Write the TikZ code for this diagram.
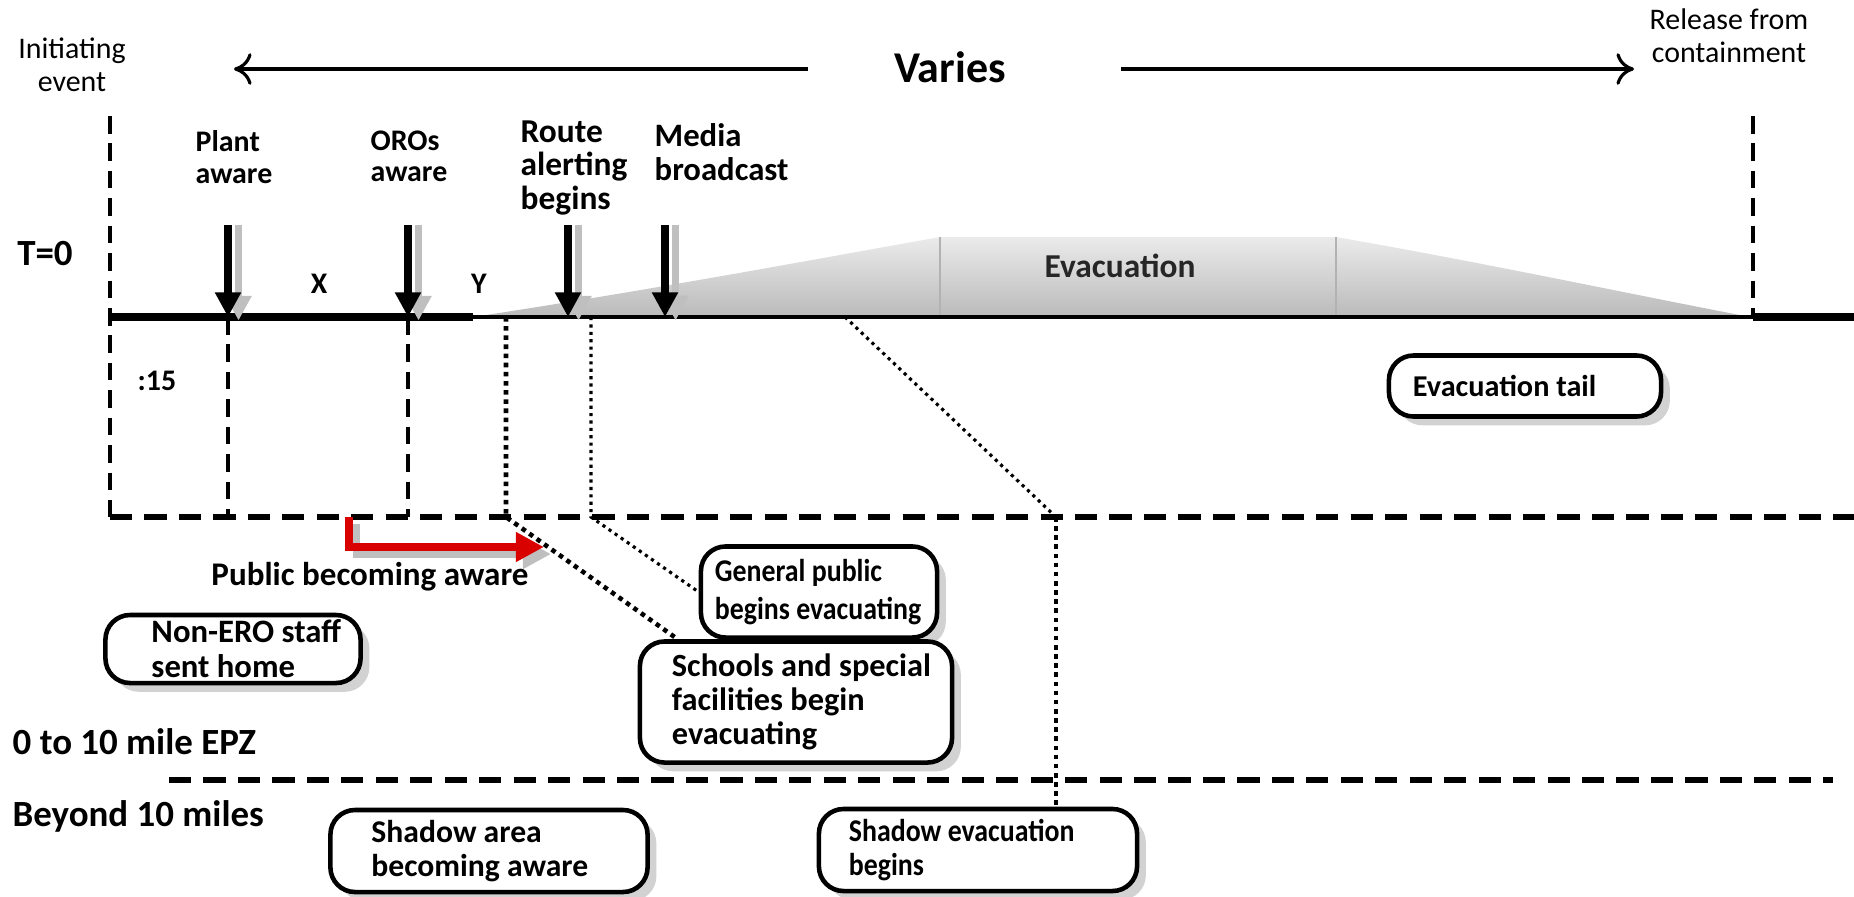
\documentclass[tikz,border=0pt]{standalone}
\usepackage{fontspec}
\setmainfont{Carlito}
\newfontfamily\narrowfont[FakeStretch=0.88, BoldFont={Carlito Bold}]{Carlito}
\usetikzlibrary{arrows.meta,shadows,positioning}

\tikzset{
  lbl/.style={font=\bfseries\fontsize{8.5}{9}\selectfont, inner sep=0pt, align=left},
  thin lbl/.style={font=\fontsize{8.5}{9.5}\selectfont, inner sep=0pt, align=center},
  big lbl/.style={font=\bfseries\fontsize{10.5}{12}\selectfont, inner sep=0pt},
  evbox/.style n args={4}{draw, line width=1.3pt, rounded corners=7pt, fill=white,
    font={#4\bfseries}, align=flush left, inner xsep=0.1cm, inner ysep=1pt,
    text width=#1, minimum height=#2,
    execute at begin node={\hyphenpenalty=10000\leftskip=#3\relax},
    drop shadow={shadow xshift=2.5pt, shadow yshift=-2.5pt, fill=black!35}},
  bigdash/.style={line width=1.3pt, dash pattern=on 5pt off 2.8pt},
  hdash/.style={line width=1.5pt, dash pattern=on 6.3pt off 3.5pt},
  dots/.style={line width=1.3pt, dash pattern=on 1.3pt off 1.3pt},
  finedots/.style={line width=0.9pt, dash pattern=on 0.9pt off 1.2pt},
  downarrow/.style={line width=2pt, -{Triangle[length=7pt,width=7pt]}},
  arrshadow/.style={line width=2pt, black!25, -{Triangle[length=7pt,width=7pt]}},
  spanarrow/.style={line width=0.9pt, -{To[length=5pt,width=9pt]}}
}

\begin{document}
\begin{tikzpicture}[x=0.01cm,y=-0.01cm]
  \useasboundingbox (0,0) rectangle (1854,896);

  % evacuation curve
  \shade[top color=black!8, bottom color=black!27]
    (473,317) .. controls (650,290) and (800,262) .. (940,237)
    -- (1336,237) .. controls (1480,262) and (1620,292) .. (1750,317) -- cycle;
  \draw[black!30, line width=0.6pt] (940,237) -- (940,317);
  \draw[black!30, line width=0.6pt] (1336,237) -- (1336,317);
  \node[font=\fontsize{9.5}{11}\selectfont\bfseries, text=black!85] (evac) at (1120,266) {Evacuation};

  % time line
  \coordinate (t0) at (110,317);
  \coordinate (tg) at (473,317);
  \coordinate (tr) at (1753,317);
  \coordinate (tend) at (1854,317);
  \draw[line width=2.4pt] (t0) -- (tg);
  \draw[line width=1.3pt] (tg) -- (tr);
  \draw[line width=2.4pt] (tr) -- (tend);

  % top texts
  \node[thin lbl] (init) at (72,65) {Initiating\\event};
  \node[thin lbl] (release) at (1729,36) {Release from\\containment};
  \node[font=\bfseries\fontsize{12.5}{14}\selectfont, inner sep=0pt] (varies) at (950,67) {Varies};
  \coordinate (vl) at (808,69);
  \coordinate (vr) at (1121,69);
  \coordinate (tipl) at (234,69);
  \coordinate (tipr) at (1634,69);
  \draw[spanarrow] (vl) -- (tipl);
  \draw[spanarrow] (vr) -- (tipr);

  \node[big lbl] (tzero) at (45,254) {T=0};

  % event labels
  \node[lbl, anchor=north west] (plant) at (195,130) {Plant\\aware};
  \node[lbl, anchor=north west] (oros) at (370,130) {OROs\\aware};
  \node[lbl, font=\bfseries\fontsize{9.5}{9.5}\selectfont, anchor=north west] (route) at (520,120) {Route\\alerting\\begins};
  \node[lbl, font=\bfseries\fontsize{9.3}{9.5}\selectfont, anchor=north west] (media) at (654,123) {Media\\broadcast};
  \node[lbl] (xgap) at (319,284) {X};
  \node[lbl] (ygap) at (479,284) {Y};

  % event arrows
  \foreach \ax/\nm in {228/a, 408/b, 568/c, 665/d} {
    \coordinate (\nm top) at (\ax,225);
    \coordinate (\nm bot) at (\ax,317);
    \draw[arrshadow] ([xshift=3pt]\nm top) -- ([xshift=3pt,yshift=-1pt]\nm bot);
    \draw[downarrow] (\nm top) -- (\nm bot);
  }

  % boundary dashes
  \draw[bigdash] (110,116) -- (110,517);
  \draw[bigdash] (1753,116) -- (1753,317);
  \draw[bigdash] (abot) -- (228,517);
  \draw[bigdash] (bbot) -- (408,517);
  \draw[hdash] (110,517) -- (1854,517);
  \draw[hdash] (169,780) -- (1833,780);

  \node[font=\fontsize{8.5}{9.5}\selectfont\bfseries, inner sep=0pt] (fifteen) at (157,381) {:15};

  % boxes
  \node[evbox={2.52cm}{0.61cm}{0.14cm}{\fontsize{8.6}{10}\selectfont}] (tail) at (1525,386) {Evacuation tail};
  \node[evbox={2.16cm}{0.91cm}{0.04cm}{\narrowfont\fontsize{9}{10.8}\selectfont}] (gp) at (819,592) {General public\\begins evacuating};
  \node[evbox={2.92cm}{1.21cm}{0.22cm}{\fontsize{9.2}{9.7}\selectfont}] (sch) at (796,702) {Schools and special\\facilities begin\\evacuating};
  \node[evbox={2.35cm}{0.68cm}{0.36cm}{\fontsize{9.3}{10}\selectfont}] (ero) at (233,649) {Non-ERO staff\\sent home};
  \node[evbox={2.97cm}{0.82cm}{0.31cm}{\fontsize{9}{9.6}\selectfont}] (sha) at (489,851) {Shadow area\\becoming aware};
  \node[evbox={2.98cm}{0.82cm}{0.2cm}{\narrowfont\fontsize{9}{9.6}\selectfont}] (she) at (978,850) {Shadow evacuation\\begins};

  % zone labels
  \node[big lbl, anchor=west] (epz) at (12,742) {0 to 10 mile EPZ};
  \node[big lbl, anchor=west] (beyond) at (12,816) {Beyond 10 miles};

  % public becoming aware
  \coordinate (pa) at (349,517);
  \coordinate (pb) at (544,547);
  \draw[line width=2pt, black!25, -{Triangle[length=8pt,width=8pt]}]
    ([xshift=2pt,yshift=-2pt]pa) |- ([xshift=2pt,yshift=-2pt]pb);
  \draw[line width=2pt, red!85!black, -{Triangle[length=8pt,width=8pt]}] (pa) |- (pb);
  \node[lbl, font=\bfseries\fontsize{9.4}{10}\selectfont] (pub) at (370,577) {Public becoming aware};

  % leaders to boxes
  \coordinate (sa) at (506,317);
  \coordinate (sb) at (506,517);
  \draw[dots] (sa) -- (sb) -- ([xshift=0.4cm]sch.north west);
  \coordinate (ga) at (591,317);
  \coordinate (gb) at (591,517);
  \draw[finedots] (ga) -- (gb) -- (gp.west);
  \coordinate (ea) at (845,317);
  \coordinate (eb) at (1056,517);
  \draw[finedots] (ea) -- (eb);
  \draw[dots] (eb) -- (eb |- she.north);
\end{tikzpicture}
\end{document}
